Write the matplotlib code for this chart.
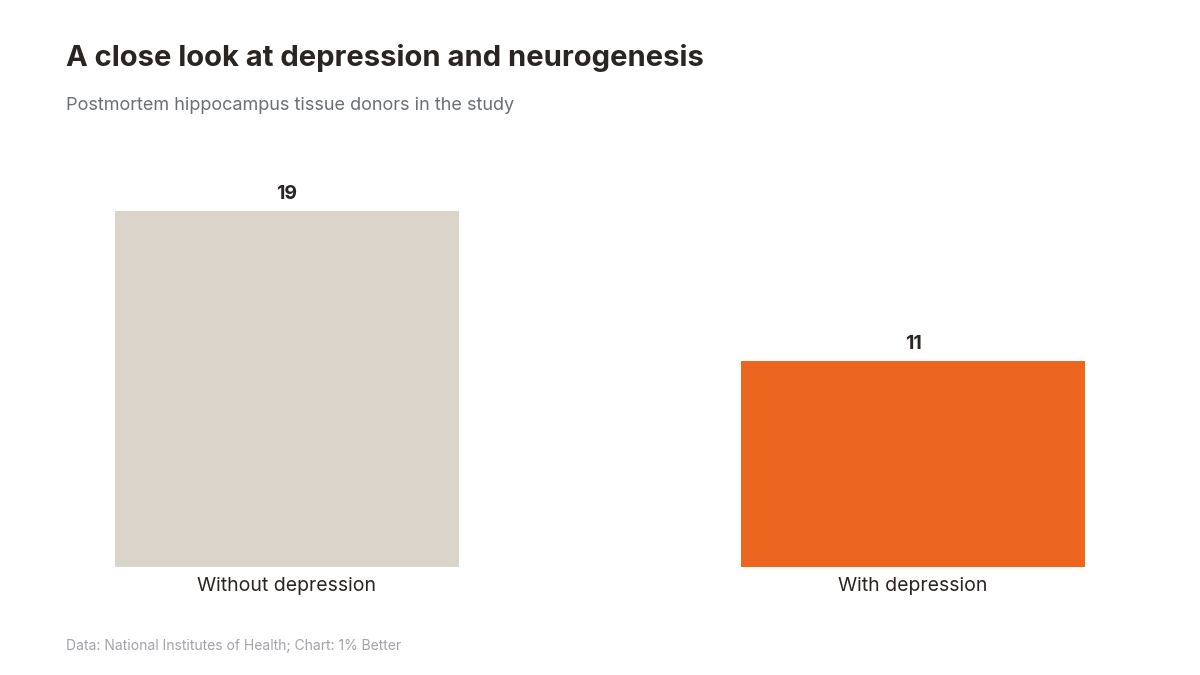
import matplotlib
matplotlib.use('Agg')
import matplotlib.pyplot as plt

# data
categories = ["Without depression", "With depression"]
donors = [19, 11]
bar_colors = ["#dad4ca", "#ec6620"]

title = "A close look at depression and neurogenesis"
subtitle = "Postmortem hippocampus tissue donors in the study"
footer = "Data: National Institutes of Health; Chart: 1% Better"

plt.rcParams['font.family'] = ['Inter', 'DejaVu Sans']

W, H = 1200, 675
fig = plt.figure(figsize=(W / 100, H / 100), dpi=100)
fig.patch.set_facecolor("white")

# axes placed in pixel terms: left 66, right 1134, bottom 567, top 150
ax = fig.add_axes([66 / W, (H - 567) / H, (1134 - 66) / W, (567 - 150) / H])
px_per_unit = (567 - 211) / 19.0
ax.set_ylim(0, (567 - 150) / px_per_unit)
ax.set_xlim(-0.353, 1.353)

x = list(range(len(categories)))
bars = ax.bar(x, donors, width=0.55, color=bar_colors)

for b, v in zip(bars, donors):
    ax.annotate(str(v), (b.get_x() + b.get_width() / 2, v), xytext=(0, 6),
                textcoords="offset points", ha="center", va="bottom",
                fontsize=14, fontweight="bold", color="#2a2522")

ax.set_xticks(x)
ax.set_xticklabels(categories, fontsize=14, color="#2a2522")
ax.tick_params(axis="x", length=0, pad=7.5)
ax.set_yticks([])
for s in ax.spines.values():
    s.set_visible(False)

fig.text(66 / W, 1 - 58 / H, title, fontsize=21, fontweight="bold",
         color="#2a2522", va="center", ha="left")
fig.text(66 / W, 1 - 105 / H, subtitle, fontsize=13, color="#6b6f76",
         va="center", ha="left")
fig.text(66 / W, 1 - 646 / H, footer, fontsize=10, color="#a0a3a8",
         va="center", ha="left")

fig.savefig("out.png", dpi=100, facecolor="white")
